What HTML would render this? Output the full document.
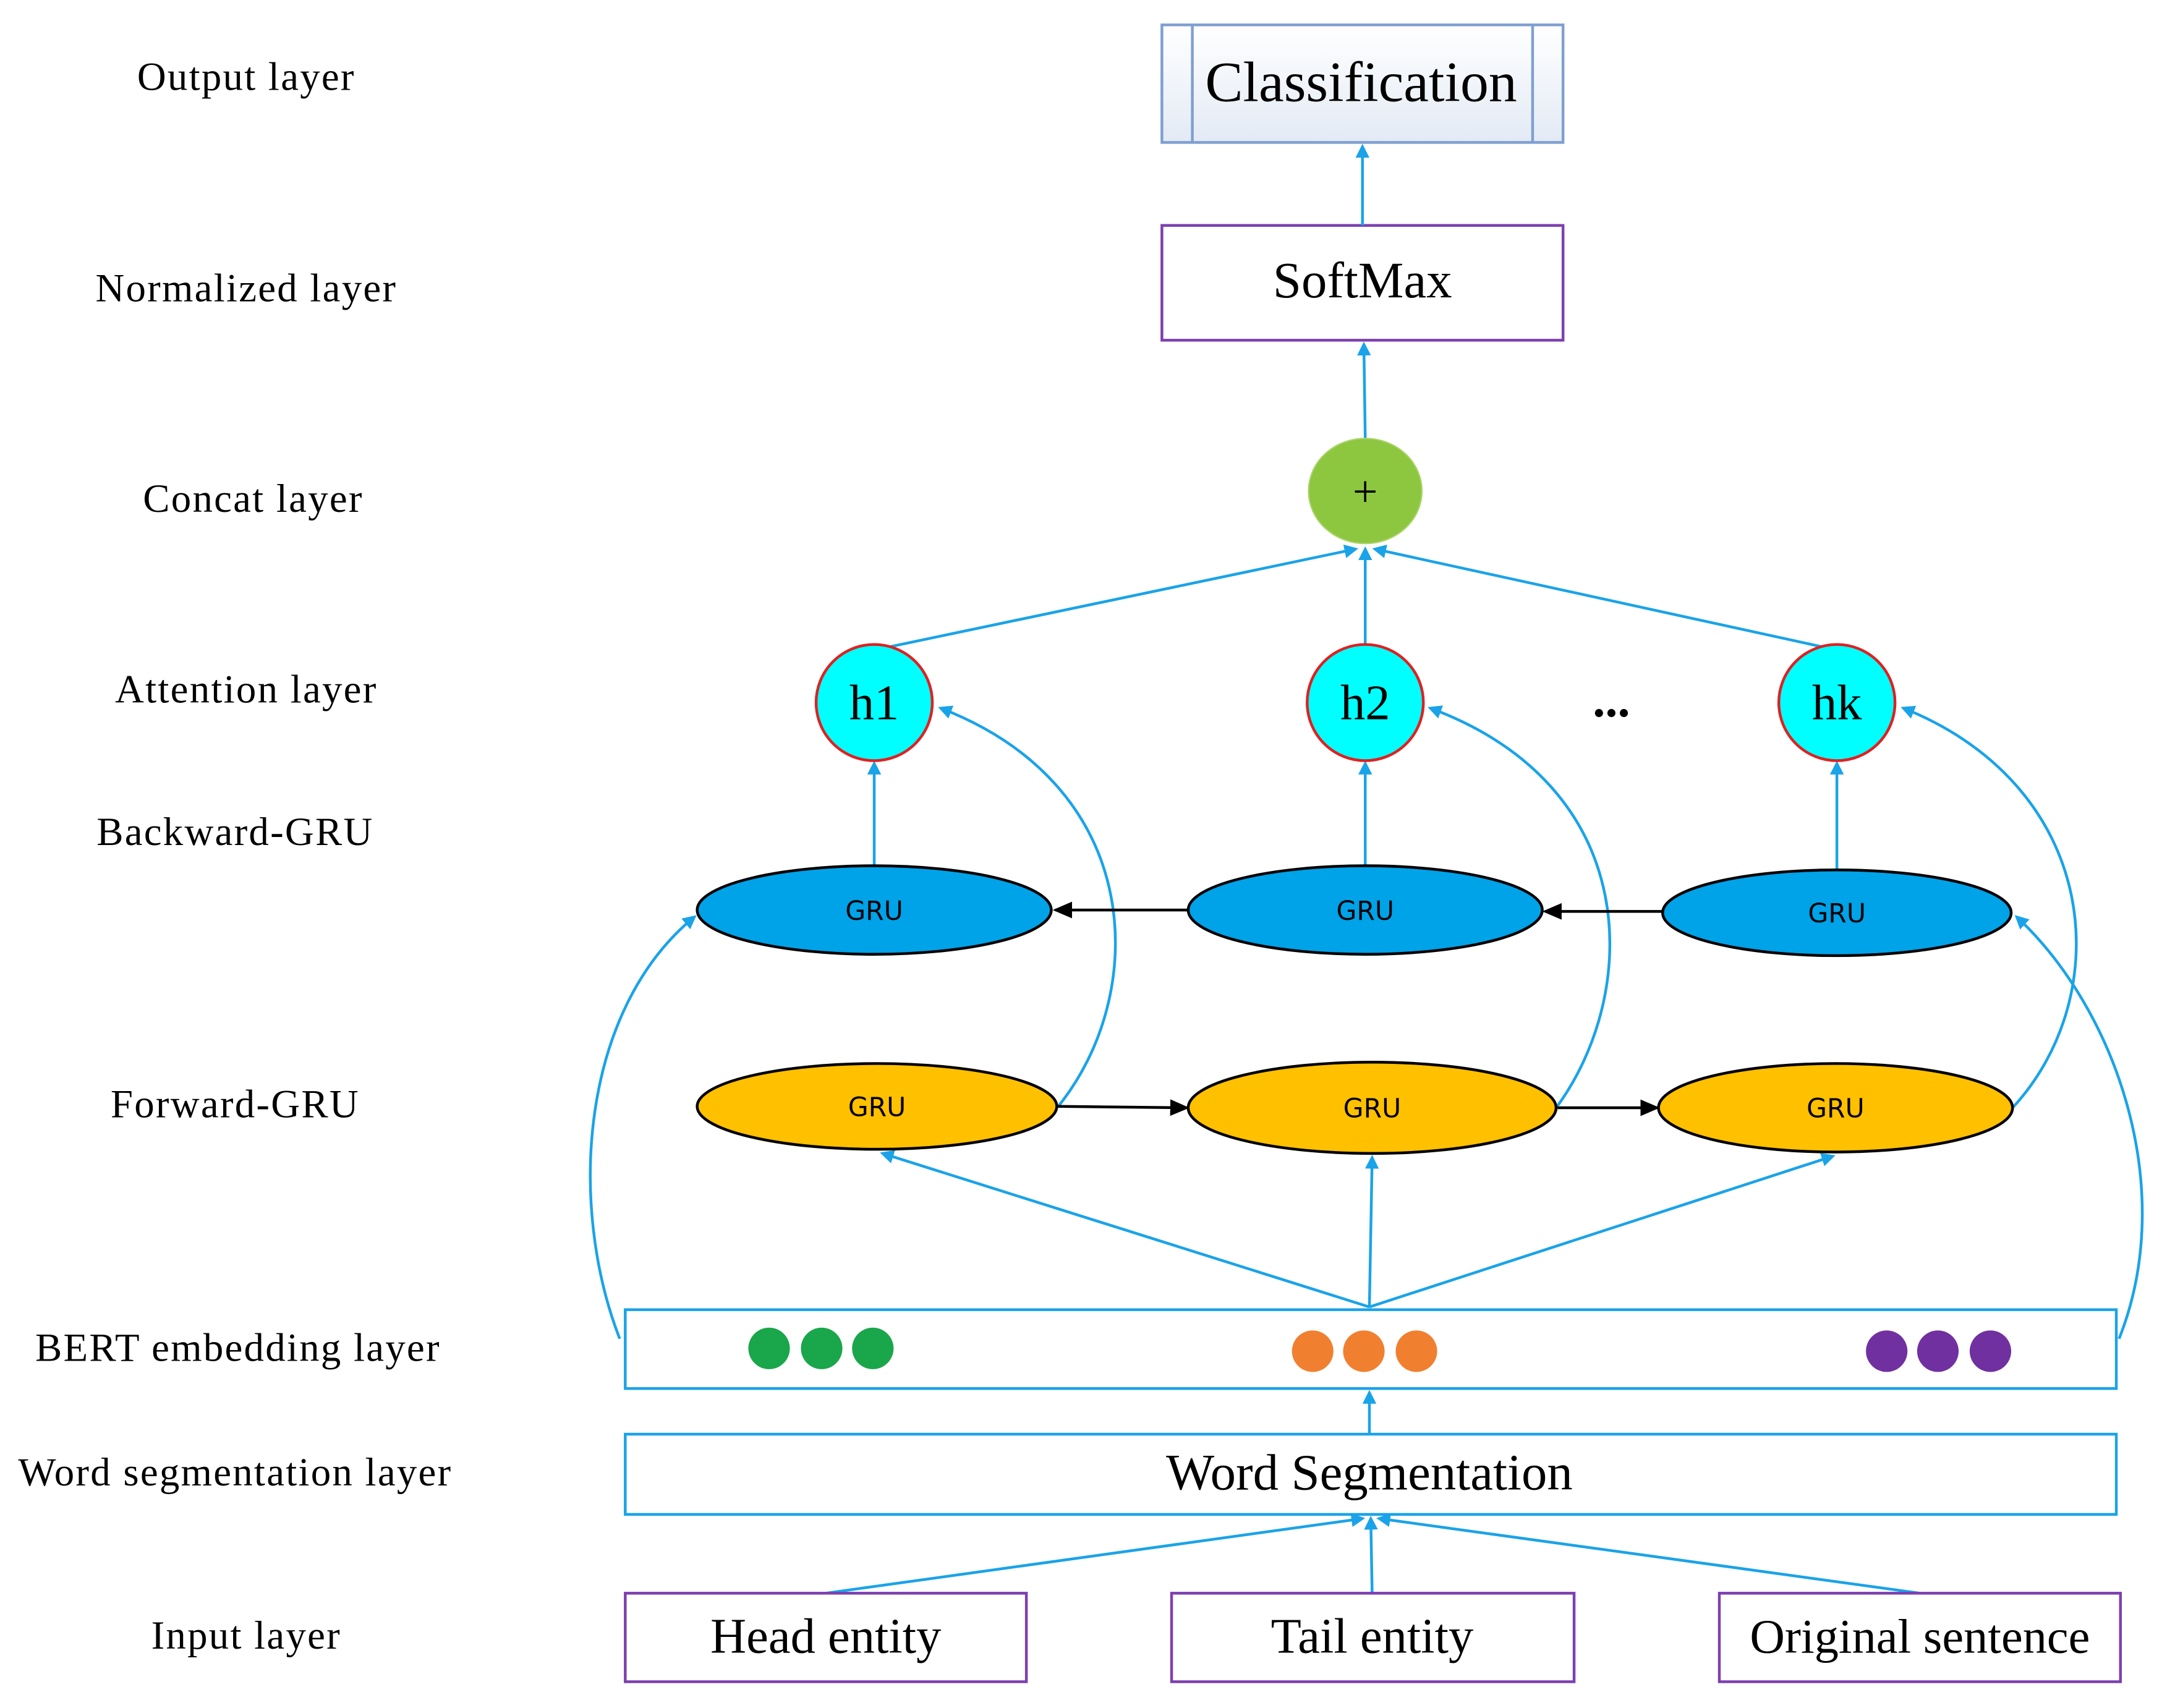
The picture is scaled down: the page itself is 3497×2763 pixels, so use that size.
<!DOCTYPE html>
<html><head><meta charset="utf-8"><style>
html,body{margin:0;padding:0;background:#fff}
svg{display:block}
text{font-family:"Liberation Serif",serif;fill:#000}
.l{font-size:29px;letter-spacing:1px;text-anchor:middle}
.g{font-family:"DejaVu Sans","Liberation Sans",sans-serif;font-size:19px;text-anchor:middle}
.b{text-anchor:middle}
</style></head><body>
<svg width="3497" height="2763" viewBox="0 0 1563 1235" xmlns="http://www.w3.org/2000/svg">
<defs>
<marker id="b" markerWidth="10" markerHeight="10" refX="8" refY="5" orient="auto" markerUnits="userSpaceOnUse"><path d="M0,0 L10,5 L0,10 z" fill="#1aa3e8"/></marker>
<marker id="k" markerWidth="14" markerHeight="12" refX="12" refY="6" orient="auto" markerUnits="userSpaceOnUse"><path d="M0,0 L14,6 L0,12 z" fill="#000"/></marker>
<linearGradient id="cg" x1="0" y1="0" x2="0" y2="1"><stop offset="0" stop-color="#fff"/><stop offset="1" stop-color="#e3eaf5"/></linearGradient>
</defs>
<text x="178" y="65" class="l">Output layer</text>
<text x="178" y="218" class="l">Normalized layer</text>
<text x="183" y="370" class="l">Concat layer</text>
<text x="178" y="508" class="l">Attention layer</text>
<text x="170" y="611" class="l">Backward-GRU</text>
<text x="170" y="808" class="l">Forward-GRU</text>
<text x="172" y="984" class="l">BERT embedding layer</text>
<text x="170" y="1074" class="l">Word segmentation layer</text>
<text x="178" y="1192" class="l">Input layer</text>
<rect x="840" y="18" width="290" height="85" fill="url(#cg)" stroke="#7f9fd0" stroke-width="2"/>
<line x1="862" y1="18" x2="862" y2="103" stroke="#7f9fd0" stroke-width="2"/>
<line x1="1108" y1="18" x2="1108" y2="103" stroke="#7f9fd0" stroke-width="2"/>
<text x="984" y="73" class="b" style="font-size:41px">Classification</text>
<rect x="840" y="163" width="290" height="83" fill="#fff" stroke="#7d3fb0" stroke-width="2"/>
<text x="985" y="215" class="b" style="font-size:37px">SoftMax</text>
<g stroke="#1aa3e8" stroke-width="2" fill="none">
<line x1="985" y1="163" x2="985" y2="106" marker-end="url(#b)"/>
<line x1="987" y1="317" x2="986" y2="249" marker-end="url(#b)"/>
<line x1="632" y1="470" x2="980" y2="397" marker-end="url(#b)"/>
<line x1="987" y1="470" x2="987" y2="397" marker-end="url(#b)"/>
<line x1="1328" y1="470" x2="994" y2="397" marker-end="url(#b)"/>
<line x1="632" y1="626" x2="632" y2="552" marker-end="url(#b)"/>
<line x1="987" y1="626" x2="987" y2="552" marker-end="url(#b)"/>
<line x1="1328" y1="628" x2="1328" y2="552" marker-end="url(#b)"/>
<line x1="990" y1="945" x2="638" y2="834" marker-end="url(#b)"/>
<line x1="990" y1="945" x2="992" y2="837" marker-end="url(#b)"/>
<line x1="990" y1="945" x2="1325" y2="836" marker-end="url(#b)"/>
<line x1="990" y1="1037" x2="990" y2="1007" marker-end="url(#b)"/>
<line x1="597" y1="1152" x2="985" y2="1098" marker-end="url(#b)"/>
<line x1="992" y1="1152" x2="991" y2="1098" marker-end="url(#b)"/>
<line x1="1388" y1="1152" x2="997" y2="1098" marker-end="url(#b)"/>
<path d="M448,968 C410,870 420,730 502,663" marker-end="url(#b)"/>
<path d="M1532,968 C1575,860 1530,730 1458,663" marker-end="url(#b)"/>
<path d="M765,800 C830,720 830,570 680,512" marker-end="url(#b)"/>
<path d="M1125,801 C1185,720 1190,570 1034,512" marker-end="url(#b)"/>
<path d="M1455,801 C1530,720 1520,570 1376,512" marker-end="url(#b)"/>
</g>
<g stroke="#000" stroke-width="2">
<line x1="860" y1="658" x2="763" y2="658" marker-end="url(#k)"/>
<line x1="1203" y1="659" x2="1117" y2="659" marker-end="url(#k)"/>
<line x1="765" y1="800" x2="858" y2="801" marker-end="url(#k)"/>
<line x1="1126" y1="801" x2="1198" y2="801" marker-end="url(#k)"/>
</g>
<ellipse cx="987" cy="355" rx="41" ry="38" fill="#8dc63f" stroke="#aad46a"/>
<text x="987" y="366" class="b" style="font-size:32px">+</text>
<g fill="#00ffff" stroke="#e02020" stroke-width="2">
<circle cx="632" cy="508" r="42"/><circle cx="987" cy="508" r="42"/><circle cx="1328" cy="508" r="42"/>
</g>
<text x="632" y="520" class="b" style="font-size:36px">h1</text>
<text x="987" y="520" class="b" style="font-size:36px">h2</text>
<text x="1328" y="520" class="b" style="font-size:36px">hk</text>
<text x="1165" y="518" class="b" style="font-size:36px;font-weight:bold">...</text>
<g fill="#00a2e8" stroke="#000" stroke-width="2">
<ellipse cx="632" cy="658" rx="128" ry="32"/><ellipse cx="987" cy="658" rx="128" ry="32"/><ellipse cx="1328" cy="660" rx="126" ry="31"/>
</g>
<g fill="#ffc000" stroke="#000" stroke-width="2">
<ellipse cx="634" cy="800" rx="130" ry="31"/><ellipse cx="992" cy="801" rx="133" ry="33"/><ellipse cx="1327" cy="801" rx="128" ry="32"/>
</g>
<text x="632" y="665" class="g">GRU</text><text x="987" y="665" class="g">GRU</text><text x="1328" y="667" class="g">GRU</text>
<text x="634" y="807" class="g">GRU</text><text x="992" y="808" class="g">GRU</text><text x="1327" y="808" class="g">GRU</text>
<rect x="452" y="947" width="1078" height="57" fill="#fff" stroke="#1aa3e8" stroke-width="2"/>
<g fill="#1aa64a"><circle cx="556" cy="975" r="15"/><circle cx="594" cy="975" r="15"/><circle cx="631" cy="975" r="15"/></g>
<g fill="#f08030"><circle cx="949" cy="977" r="15"/><circle cx="986" cy="977" r="15"/><circle cx="1024" cy="977" r="15"/></g>
<g fill="#7030a0"><circle cx="1364" cy="977" r="15"/><circle cx="1401" cy="977" r="15"/><circle cx="1439" cy="977" r="15"/></g>
<rect x="452" y="1037" width="1078" height="58" fill="#fff" stroke="#1aa3e8" stroke-width="2"/>
<text x="990" y="1077" class="b" style="font-size:37px">Word Segmentation</text>
<g fill="#fff" stroke="#7d3fb0" stroke-width="2">
<rect x="452" y="1152" width="290" height="64"/><rect x="847" y="1152" width="291" height="64"/><rect x="1243" y="1152" width="290" height="64"/>
</g>
<text x="597" y="1195" class="b" style="font-size:36px">Head entity</text>
<text x="992" y="1195" class="b" style="font-size:36px">Tail entity</text>
<text x="1388" y="1195" class="b" style="font-size:35px">Original sentence</text>
</svg>
</body></html>
